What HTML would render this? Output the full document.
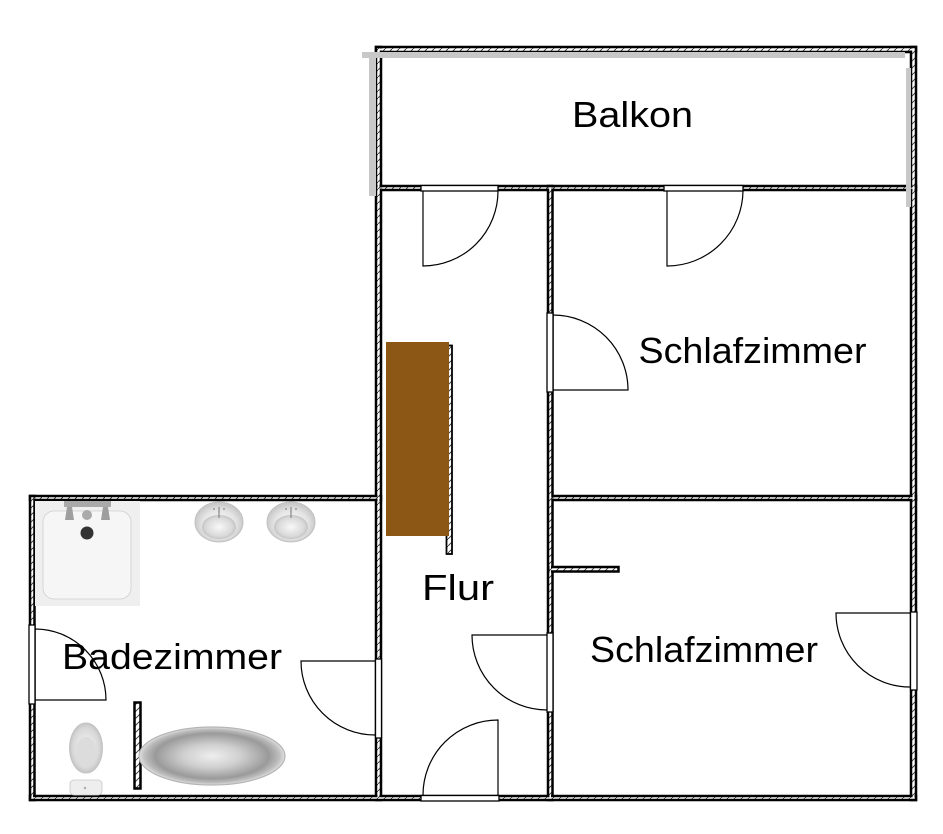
<!DOCTYPE html>
<html>
<head>
<meta charset="utf-8">
<style>
  html,body{margin:0;padding:0;background:#fff;}
  svg{display:block;}
  text{font-family:"Liberation Sans", Arial, sans-serif;fill:#000;}
</style>
</head>
<body>
<svg width="943" height="834" viewBox="0 0 943 834" xmlns="http://www.w3.org/2000/svg">
  <defs>
    <pattern id="hatch" patternUnits="userSpaceOnUse" width="7" height="7">
      <rect width="7" height="7" fill="#fff"/>
      <line x1="0" y1="7" x2="7" y2="0" stroke="#333" stroke-width="0.9"/>
    </pattern>
    <radialGradient id="tub" cx="50%" cy="50%" r="50%">
      <stop offset="0%" stop-color="#eeeeee"/>
      <stop offset="40%" stop-color="#cfcfcf"/>
      <stop offset="78%" stop-color="#9a9a9a"/>
      <stop offset="92%" stop-color="#bdbdbd"/>
      <stop offset="100%" stop-color="#e0e0e0"/>
    </radialGradient>
    <radialGradient id="sink" cx="50%" cy="55%" r="50%">
      <stop offset="0%" stop-color="#ffffff"/>
      <stop offset="70%" stop-color="#e4e4e4"/>
      <stop offset="100%" stop-color="#cacaca"/>
    </radialGradient>
    <radialGradient id="bowl" cx="50%" cy="50%" r="50%">
      <stop offset="0%" stop-color="#f8f8f8"/>
      <stop offset="80%" stop-color="#d8d8d8"/>
      <stop offset="100%" stop-color="#c4c4c4"/>
    </radialGradient>
  </defs>

  <!-- Walls: stroke pass -->
  <g fill="url(#hatch)" stroke="#000" stroke-width="2.5">
    <rect x="376" y="47" width="540" height="5"/>
    <rect x="376" y="47" width="5" height="143"/>
    <rect x="911" y="47" width="5" height="753"/>
    <rect x="376" y="186" width="540" height="4"/>
    <rect x="376" y="186" width="5" height="614"/>
    <rect x="548" y="186" width="4.5" height="614"/>
    <rect x="30" y="496" width="351" height="4"/>
    <rect x="30" y="496" width="4.5" height="304"/>
    <rect x="30" y="796" width="886" height="4"/>
    <rect x="553" y="496" width="363" height="4"/>
    <rect x="549" y="567" width="69.5" height="4.5"/>
    <rect x="134.5" y="702.5" width="6" height="86"/>
  </g>
  <!-- Walls: fill pass (open junctions) -->
  <g fill="url(#hatch)" stroke="none">
    <rect x="377.5" y="48.5" width="537" height="2"/>
    <rect x="377.5" y="48.5" width="2" height="140"/>
    <rect x="912.5" y="48.5" width="2" height="750"/>
    <rect x="377.5" y="187.5" width="537" height="1"/>
    <rect x="377.5" y="187.5" width="2" height="611"/>
    <rect x="549.5" y="187.5" width="1.5" height="611"/>
    <rect x="31.5" y="497.5" width="348" height="1"/>
    <rect x="31.5" y="497.5" width="1.5" height="301"/>
    <rect x="31.5" y="797.5" width="883" height="1"/>
    <rect x="551" y="497.5" width="361" height="1"/>
    <rect x="550.5" y="568.5" width="66.5" height="1.5"/>
  </g>

  <!-- Door openings -->
  <g fill="#fff" stroke="#000" stroke-width="1.3">
    <rect x="421" y="185.5" width="77" height="5.5"/>
    <rect x="664" y="185.5" width="79" height="5.5"/>
    <rect x="547" y="313" width="6" height="79"/>
    <rect x="547" y="633" width="6" height="79"/>
    <rect x="421" y="795.5" width="78" height="5.5"/>
    <rect x="375.5" y="659" width="6" height="79"/>
    <rect x="29" y="625" width="6" height="79"/>
    <rect x="910.5" y="612" width="6.5" height="78"/>
  </g>

  <!-- Door swings -->
  <g fill="none" stroke="#000" stroke-width="1.2">
    <path d="M423,191 L423,266 A75,75 0 0 0 498,191"/>
    <path d="M667,191 L667,266 A76,76 0 0 0 743,191"/>
    <path d="M553,390 L628,390 A75,75 0 0 0 553,315"/>
    <path d="M547,635 L472,635 A75,75 0 0 0 547,710"/>
    <path d="M498,795 L498,720 A75,75 0 0 0 423,795"/>
    <path d="M375,661 L301,661 A74,74 0 0 0 375,735"/>
    <path d="M35,700 L106,700 A71,71 0 0 0 35,629"/>
    <path d="M910,613 L836,613 A74,74 0 0 0 910,687"/>
  </g>

  <!-- Balcony railing (gray) -->
  <g fill="#c8c8c8">
    <rect x="362" y="52" width="543" height="6"/>
    <rect x="369" y="52" width="7" height="144"/>
    <rect x="906" y="68" width="5" height="139"/>
  </g>

  <!-- Wardrobe + thin wall -->
  <rect x="446.5" y="345.5" width="5.5" height="208.5" fill="url(#hatch)" stroke="#000" stroke-width="1.8"/>
  <rect x="386" y="342" width="63" height="194" fill="#8c5614"/>

  <!-- Shower tray -->
  <rect x="35" y="501" width="105" height="105" fill="#efefef"/>
  <rect x="43" y="511" width="88" height="88" rx="11" fill="#f6f6f6" stroke="#cfcfcf" stroke-width="0.8"/>
  <rect x="64" y="501" width="47" height="6" fill="#a9a9a9"/>
  <path d="M67,507 L72,507 L74,520 L65,520 Z" fill="#9e9e9e"/>
  <path d="M103,507 L108,507 L110,520 L101,520 Z" fill="#9e9e9e"/>
  <circle cx="87" cy="515" r="5" fill="#aaa"/>
  <circle cx="87" cy="533" r="6.5" fill="#333"/>

  <!-- Sinks -->
  <g>
    <ellipse cx="219" cy="522" rx="24" ry="20" fill="url(#sink)" stroke="#c0c0c0" stroke-width="1"/>
    <ellipse cx="219" cy="527" rx="17" ry="12" fill="url(#bowl)"/>
    <line x1="219" y1="507" x2="219" y2="518" stroke="#999" stroke-width="1.5"/>
    <circle cx="214" cy="509" r="1" fill="#999"/>
    <circle cx="224" cy="509" r="1" fill="#999"/>
    <ellipse cx="291" cy="522" rx="24" ry="20" fill="url(#sink)" stroke="#c0c0c0" stroke-width="1"/>
    <ellipse cx="291" cy="527" rx="17" ry="12" fill="url(#bowl)"/>
    <line x1="291" y1="507" x2="291" y2="518" stroke="#999" stroke-width="1.5"/>
    <circle cx="286" cy="509" r="1" fill="#999"/>
    <circle cx="296" cy="509" r="1" fill="#999"/>
  </g>

  <!-- Toilet -->
  <ellipse cx="86" cy="748" rx="16.5" ry="25" fill="url(#bowl)" stroke="#c4c4c4" stroke-width="1"/>
  <ellipse cx="86" cy="752" rx="10" ry="15" fill="#dcdcdc"/>
  <rect x="70" y="780" width="32" height="15" rx="4" fill="#eeeeee" stroke="#c8c8c8" stroke-width="0.8"/>
  <circle cx="85" cy="788" r="1.2" fill="#aaa"/>

  <!-- Bathtub -->
  <ellipse cx="212" cy="756" rx="73" ry="29" fill="url(#tub)" stroke="#b5b5b5" stroke-width="1.2"/>

  <!-- Labels -->
  <text x="572" y="127" font-size="36" textLength="121" lengthAdjust="spacingAndGlyphs">Balkon</text>
  <text x="638.5" y="363" font-size="36" textLength="228" lengthAdjust="spacingAndGlyphs">Schlafzimmer</text>
  <text x="590" y="662" font-size="36" textLength="228" lengthAdjust="spacingAndGlyphs">Schlafzimmer</text>
  <text x="422" y="600" font-size="36" textLength="72" lengthAdjust="spacingAndGlyphs">Flur</text>
  <text x="62" y="669" font-size="36" textLength="220" lengthAdjust="spacingAndGlyphs">Badezimmer</text>
</svg>
</body>
</html>
